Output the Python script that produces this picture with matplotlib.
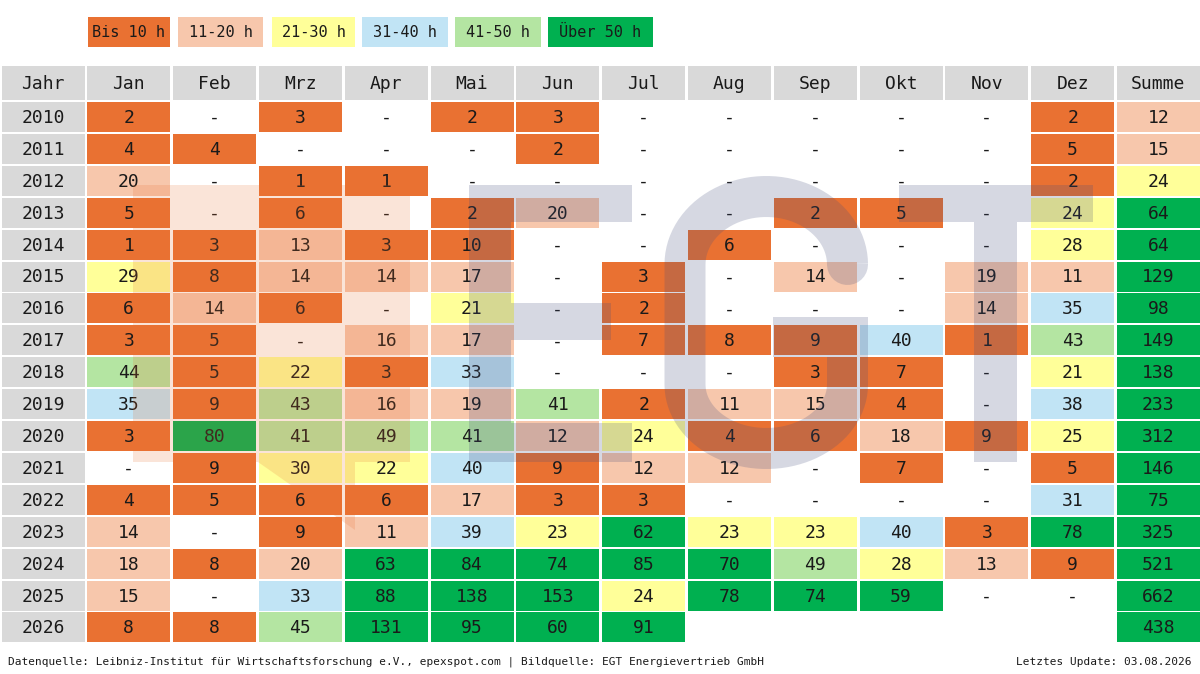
import numpy as np
import matplotlib
matplotlib.use("Agg")
import matplotlib.pyplot as plt
from matplotlib.patches import Rectangle, Polygon
from matplotlib.path import Path
from matplotlib.patches import PathPatch

# ---------------- data ----------------
months = ["Jan", "Feb", "Mrz", "Apr", "Mai", "Jun", "Jul", "Aug", "Sep", "Okt", "Nov", "Dez"]
years = list(range(2010, 2027))
# 0 = "-" (no hours), None = no data yet
h2010 = [2, 0, 3, 0, 2, 3, 0, 0, 0, 0, 0, 2]
h2011 = [4, 4, 0, 0, 0, 2, 0, 0, 0, 0, 0, 5]
h2012 = [20, 0, 1, 1, 0, 0, 0, 0, 0, 0, 0, 2]
h2013 = [5, 0, 6, 0, 2, 20, 0, 0, 2, 5, 0, 24]
h2014 = [1, 3, 13, 3, 10, 0, 0, 6, 0, 0, 0, 28]
h2015 = [29, 8, 14, 14, 17, 0, 3, 0, 14, 0, 19, 11]
h2016 = [6, 14, 6, 0, 21, 0, 2, 0, 0, 0, 14, 35]
h2017 = [3, 5, 0, 16, 17, 0, 7, 8, 9, 40, 1, 43]
h2018 = [44, 5, 22, 3, 33, 0, 0, 0, 3, 7, 0, 21]
h2019 = [35, 9, 43, 16, 19, 41, 2, 11, 15, 4, 0, 38]
h2020 = [3, 80, 41, 49, 41, 12, 24, 4, 6, 18, 9, 25]
h2021 = [0, 9, 30, 22, 40, 9, 12, 12, 0, 7, 0, 5]
h2022 = [4, 5, 6, 6, 17, 3, 3, 0, 0, 0, 0, 31]
h2023 = [14, 0, 9, 11, 39, 23, 62, 23, 23, 40, 3, 78]
h2024 = [18, 8, 20, 63, 84, 74, 85, 70, 49, 28, 13, 9]
h2025 = [15, 0, 33, 88, 138, 153, 24, 78, 74, 59, 0, 0]
h2026 = [8, 8, 45, 131, 95, 60, 91, None, None, None, None, None]
hours = [h2010, h2011, h2012, h2013, h2014, h2015, h2016, h2017, h2018,
         h2019, h2020, h2021, h2022, h2023, h2024, h2025, h2026]
summe = [12, 15, 24, 64, 64, 129, 98, 149, 138, 233, 312, 146, 75, 325, 521, 662, 438]

legend_labels = ["Bis 10 h", "11-20 h", "21-30 h", "31-40 h", "41-50 h", "Über 50 h"]
bin_upper = [10, 20, 30, 40, 50, np.inf]
bin_colors = ["#E97132", "#F7C7AC", "#FFFF99", "#C1E4F5", "#B4E5A2", "#00B050"]

source_text = "Datenquelle: Leibniz-Institut für Wirtschaftsforschung e.V., epexspot.com | Bildquelle: EGT Energievertrieb GmbH"
update_text = "Letztes Update: 03.08.2026"

# ---------------- style ----------------
FONT = "DejaVu Sans Mono"
TXT = "#1a1a1a"
HEAD = "#D9D9D9"


def color_for(v):
    if v is None or v == 0:
        return None
    for ub, c in zip(bin_upper, bin_colors):
        if v <= ub:
            return c
    return bin_colors[-1]


fig = plt.figure(figsize=(12, 6.74), dpi=100)
ax = fig.add_axes([0, 0, 1, 1])
ax.set_xlim(0, 1200)
ax.set_ylim(674, 0)
ax.axis("off")

pitch_x = 85.8
cell_w = 83.0
x_off = 1.5
head_top, head_h = 66.0, 34.0
row_top0, pitch_y, cell_h = 102.0, 31.9, 30.0


def col_left(i):
    return x_off + i * pitch_x


def draw_cell(i, top, h, fc, text, fs=13):
    if fc is not None:
        ax.add_patch(Rectangle((col_left(i), top), cell_w, h, facecolor=fc,
                               edgecolor="none", zorder=1))
    if text:
        ax.text(col_left(i) + cell_w / 2, top + h / 2 + 1, text, ha="center",
                va="center", fontsize=fs, family=FONT, color=TXT, zorder=2)


# header
headers = ["Jahr"] + months + ["Summe"]
for i, lab in enumerate(headers):
    draw_cell(i, head_top, head_h, HEAD, lab)

# rows
for j, (yr, vals, s) in enumerate(zip(years, hours, summe)):
    top = row_top0 + j * pitch_y
    draw_cell(0, top, cell_h, HEAD, str(yr))
    for m, v in enumerate(vals):
        if v is None:
            continue
        draw_cell(m + 1, top, cell_h, color_for(v), "-" if v == 0 else str(v))
    draw_cell(13, top, cell_h, color_for(s), str(s))

# legend
leg_x = [88, 178, 272, 362, 455, 548]
leg_w = [82, 85, 83, 86, 86, 105]
for lx, lw, lab, c in zip(leg_x, leg_w, legend_labels, bin_colors):
    ax.add_patch(Rectangle((lx, 17), lw, 30, facecolor=c, edgecolor="none", zorder=1))
    ax.text(lx + lw / 2, 32.5, lab, ha="center", va="center", fontsize=11,
            family=FONT, color=TXT, zorder=2)

# footer
ax.text(8, 662, source_text, ha="left", va="center", fontsize=8.0, family=FONT, color=TXT)
ax.text(1191, 662, update_text, ha="right", va="center", fontsize=8.0, family=FONT, color=TXT)

# ---------------- watermark (decoration) ----------------
wm_orange = dict(facecolor="#E97132", edgecolor="none", alpha=0.19, zorder=5)
ax.add_patch(Polygon([(133, 185), (410, 185), (410, 462), (355, 462), (355, 530),
                      (258, 462), (133, 462)], closed=True, **wm_orange))

GRAY = "#46507D"
wm_gray = dict(facecolor=GRAY, edgecolor="none", alpha=0.22, zorder=5)
# E
for (x0, y0, x1, y1) in [(469, 185, 511, 462), (511, 185, 632, 222),
                         (511, 303, 611, 340), (511, 423, 632, 462)]:
    ax.add_patch(Rectangle((x0, y0), x1 - x0, y1 - y0, **wm_gray))
# T
for (x0, y0, x1, y1) in [(899, 185, 1093, 222), (974, 222, 1017, 462)]:
    ax.add_patch(Rectangle((x0, y0), x1 - x0, y1 - y0, **wm_gray))

# G: stroked centreline
cx_l, cx_r = 685.0, 847.5
cy_t, cy_b = 196.5, 448.5
rx = (cx_r - cx_l) / 2
ry_t, ry_b = 68.0, 64.0
xc = (cx_l + cx_r) / 2
pts = [(cx_r, 264.0)]
th = np.linspace(0, np.pi, 50)
pts += list(zip(xc + rx * np.cos(th), cy_t + ry_t - ry_t * np.sin(th)))
pts += [(cx_l, cy_b - ry_b)]
th = np.linspace(np.pi, 2 * np.pi, 50)
pts += list(zip(xc + rx * np.cos(th), cy_b - ry_b - ry_b * np.sin(th)))
pts += [(cx_r, 317.0)]
gpath = Path(pts)
ax.add_patch(PathPatch(gpath, facecolor="none", edgecolor=GRAY, alpha=0.22,
                       lw=41 * 72 / 100, capstyle="butt", joinstyle="round", zorder=5))
ax.add_patch(Rectangle((773, 317), 827 - 773, 40, **wm_gray))

fig.savefig("out.png", dpi=100, facecolor="white")
